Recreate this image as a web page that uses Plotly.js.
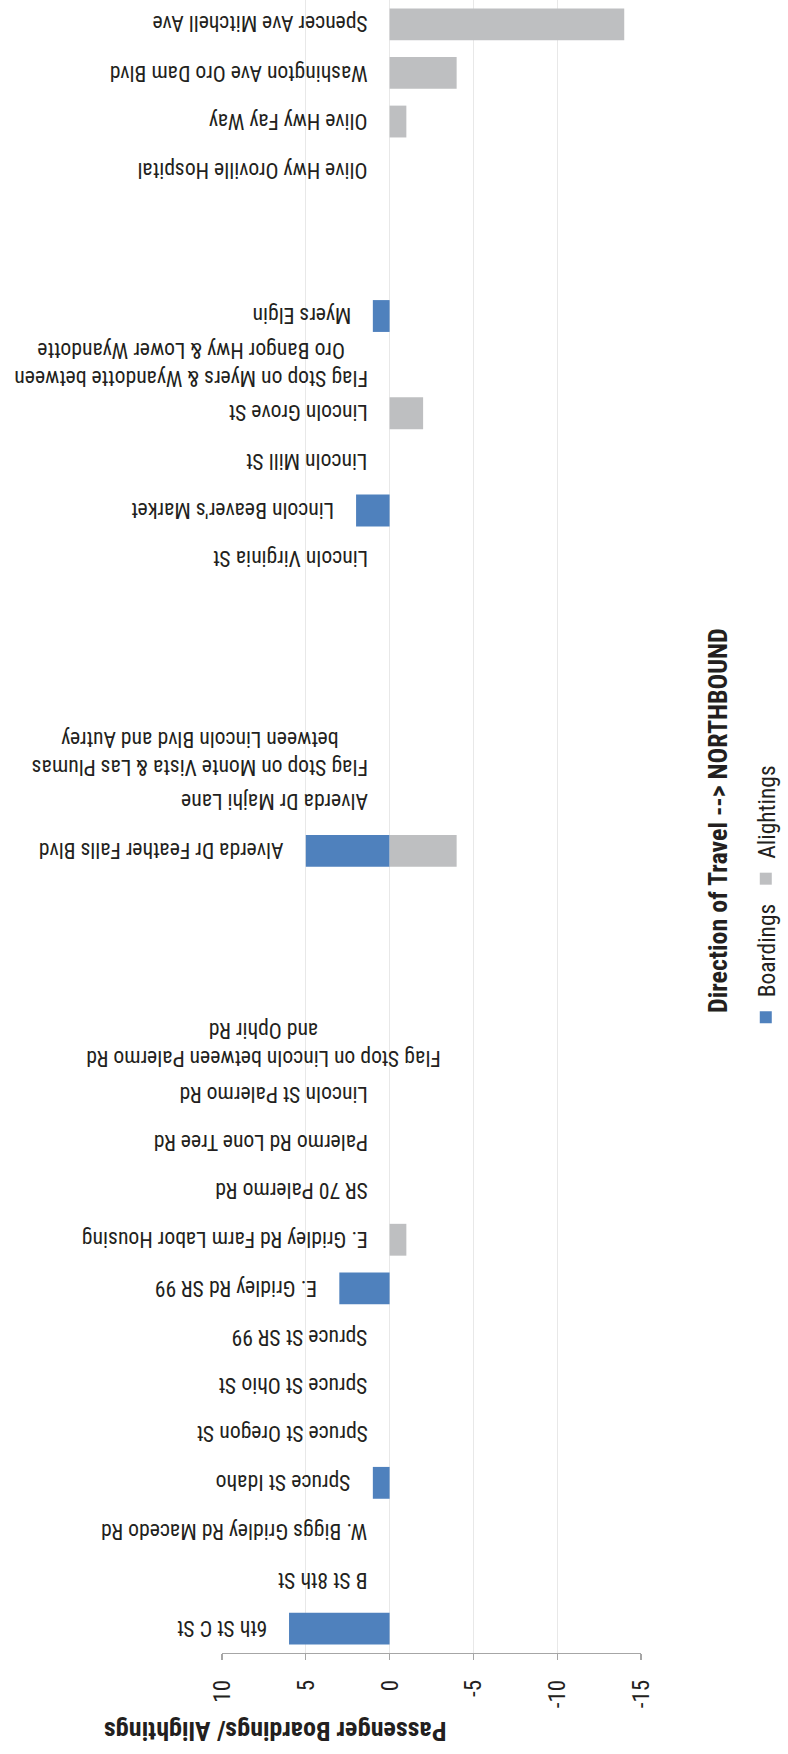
<!DOCTYPE html>
<html>
<head>
<meta charset="utf-8">
<script src="https://cdn.plot.ly/plotly-3.0.1.min.js"></script>
<style>
  html, body { margin: 0; padding: 0; background: #ffffff; }
  #frame { position: relative; width: 788px; height: 1754px; overflow: hidden; background: #ffffff; }
  #chart { position: absolute; left: 0; top: 0; width: 1754px; height: 788px;
           transform-origin: 0 0; transform: translateY(1754px) rotate(-90deg); }
</style>
</head>
<body>
<div id="frame"><div id="chart"></div></div>
<script>
// ---- data ----
const stops = [
  '6th St C St',
  'B St 8th St',
  'W. Biggs Gridley Rd Macedo Rd',
  'Spruce St Idaho',
  'Spruce St Oregon St',
  'Spruce St Ohio St',
  'Spruce St SR 99',
  'E. Gridley Rd SR 99',
  'E. Gridley Rd Farm Labor Housing',
  'SR 70 Palermo Rd',
  'Palermo Rd Lone Tree Rd',
  'Lincoln St Palermo Rd',
  'Flag Stop on Lincoln between Palermo Rd<br>and Ophir Rd',
  '', '', '',
  'Alverda Dr Feather Falls Blvd',
  'Alverda Dr Majhi Lane',
  'Flag Stop on Monte Vista & Las Plumas<br>between Lincoln Blvd and Autrey',
  '', '', '',
  'Lincoln Virginia St',
  "Lincoln Beaver's Market",
  'Lincoln Mill St',
  'Lincoln Grove St',
  'Flag Stop on Myers & Wyandotte between<br>Oro Bangor Hwy & Lower Wyandotte',
  'Myers Elgin',
  '', '',
  'Olive Hwy Oroville Hospital',
  'Olive Hwy Fay Way',
  'Washington Ave Oro Dam Blvd',
  'Spencer Ave Mitchell Ave'
];
const boardings = [6,0,0,1,0,0,0,3,0,0,0,0,0, 0,0,0, 5,0,0, 0,0,0, 0,2,0,0,0,1, 0,0, 0,0,0,0];
const alightings = [0,0,0,0,0,0,0,0,-1,0,0,0,0, 0,0,0, -4,0,0, 0,0,0, 0,0,0,-2,0,0, 0,0, 0,-1,-4,-14];
const valueTicks = [-15,-10,-5,0,5,10];
const valueTickText = ['-15','-10','-5','0','5','10'];
const seriesNames = ['Boardings','Alightings'];
const axisTitle = 'Passenger Boardings/ Alightings';
const directionTitle = 'Direction of Travel --> NORTHBOUND';

// ---- styles ----
const NARROW = '"Liberation Sans Narrow", "Arial Narrow", "Roboto Condensed", "DejaVu Sans Condensed", sans-serif';
const TXT = '#231F20';
const labelShift = {12: -53};   // label that was moved by hand in the source chart

const idx = stops.map((s, i) => i);

const traces = [
  { type: 'bar', name: seriesNames[0], x: idx, y: boardings,
    marker: { color: '#4F81BD' }, hoverinfo: 'skip' },
  { type: 'bar', name: seriesNames[1], x: idx, y: alightings,
    marker: { color: '#BEBFC1' }, hoverinfo: 'skip' }
];

const annotations = [];
stops.forEach((s, i) => {
  if (!s) return;
  annotations.push({
    x: i, y: Math.max(boardings[i], 0), xref: 'x', yref: 'y',
    text: s, showarrow: false, textangle: -90,
    xanchor: 'center', yanchor: 'bottom',
    yshift: (labelShift[i] !== undefined ? labelShift[i] : 20),
    align: 'center',
    font: { family: NARROW, size: 21.7, color: TXT }
  });
});
annotations.push({
  xref: 'paper', yref: 'paper', x: 0.5036, y: 0, yshift: -60,
  xanchor: 'center', yanchor: 'top', showarrow: false,
  text: '<b>' + directionTitle + '</b>',
  font: { family: NARROW, size: 26, color: TXT }
});
annotations.push({
  xref: 'paper', yref: 'paper', x: 0, xshift: -95, y: 0.8726,
  xanchor: 'left', yanchor: 'middle', showarrow: false, textangle: -90,
  text: '<b>' + axisTitle + '</b>',
  font: { family: NARROW, size: 26, color: TXT }
});

const layout = {
  width: 1754, height: 788,
  margin: { l: 101, r: 0, t: 222, b: 142, pad: 0 },
  paper_bgcolor: '#ffffff', plot_bgcolor: '#ffffff',
  barmode: 'relative', bargap: 0.345,
  showlegend: true,
  legend: { orientation: 'h', x: 0.3725, xanchor: 'left', y: -0.2995, yanchor: 'middle',
            font: { family: NARROW, size: 23.5, color: TXT }, bgcolor: 'rgba(0,0,0,0)' },
  xaxis: { range: [-0.5, stops.length - 0.5], showticklabels: false, showgrid: false,
           zeroline: false, showline: false, ticks: '', fixedrange: true },
  yaxis: { range: [-15, 10], tickmode: 'array', tickvals: valueTicks, ticktext: valueTickText,
           ticks: 'outside', ticklen: 6, tickwidth: 1.3, tickcolor: '#A6A6A6',
           showline: true, linecolor: '#A6A6A6', linewidth: 1.3,
           showgrid: true, gridcolor: '#E8E8E8', gridwidth: 1.3, zeroline: false,
           ticklabelstandoff: 15,
           tickfont: { family: NARROW, size: 23, color: TXT }, fixedrange: true },
  annotations: annotations
};

Plotly.newPlot('chart', traces, layout, { displayModeBar: false, staticPlot: true });
</script>
</body>
</html>
